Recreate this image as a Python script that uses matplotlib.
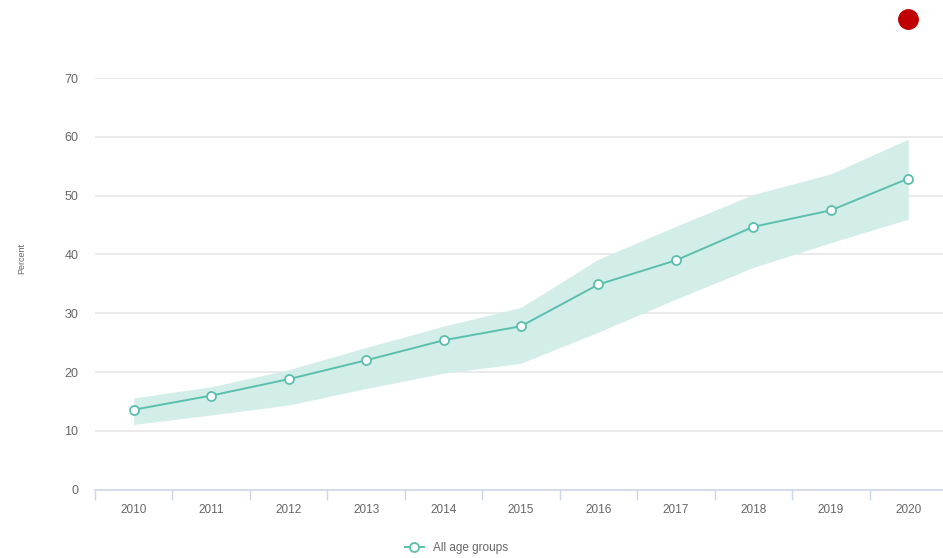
import matplotlib
matplotlib.use("Agg")
import matplotlib.pyplot as plt
import numpy as np

years = ["2010", "2011", "2012", "2013", "2014", "2015", "2016", "2017", "2018", "2019", "2020"]
values = [13.6, 16.0, 18.8, 22.0, 25.4, 27.8, 34.9, 39.0, 44.7, 47.5, 52.9]
upper = [15.6, 17.5, 20.4, 24.2, 27.8, 31.0, 39.2, 44.8, 50.2, 53.7, 59.6]
lower = [11.1, 12.7, 14.4, 17.2, 19.8, 21.5, 26.8, 32.4, 37.8, 42.0, 46.0]
target_year = "2020"
target_value = 80
yticks = [0, 10, 20, 30, 40, 50, 60, 70]
series_name = "All age groups"
ylabel = "Percent"

line_color = "#5bbfae"
band_color = "#d3eee9"
grid_color = "#e6e6e6"
axis_color = "#ccd6eb"
text_color = "#666666"

plt.rcParams['font.family'] = ['Liberation Sans', 'DejaVu Sans']

fig = plt.figure(figsize=(9.43, 5.58), dpi=100)
ax = fig.add_axes([95/943, 1 - 489.7/558, 852/943, (489.7 - 78)/558])

x = np.arange(len(years))
ax.fill_between(x, lower, upper, color=band_color, linewidth=0, zorder=1)
ax.plot(x, values, color=line_color, linewidth=1.4, marker='o', markersize=6.5,
        markerfacecolor='white', markeredgecolor=line_color, markeredgewidth=1.3,
        zorder=3, label=series_name)
ax.plot([years.index(target_year)], [target_value], marker='o', markersize=14,
        color='#c00000', linestyle='none', clip_on=False, zorder=4)

ax.set_xlim(-0.5, len(years) - 0.5)
ax.set_ylim(0, 70)
ax.set_yticks(yticks)
ax.set_xticks(x)
ax.set_xticklabels(years)
ax.set_xticks(np.arange(len(years) + 1) - 0.5, minor=True)

for y in yticks[1:]:
    ax.axhline(y, color=grid_color, linewidth=1.2, zorder=0)

for s in ['top', 'right', 'left']:
    ax.spines[s].set_visible(False)
ax.spines['bottom'].set_color(axis_color)
ax.spines['bottom'].set_linewidth(1.2)

ax.tick_params(axis='y', length=0, pad=12, labelsize=9, labelcolor=text_color)
ax.tick_params(axis='x', which='major', length=0, pad=10, labelsize=8.5, labelcolor=text_color)
ax.tick_params(axis='x', which='minor', length=7, width=1, color=axis_color)

fig.text(22/943, 1 - 258/558, ylabel, rotation=90, ha='center', va='center',
         fontsize=6.5, color=text_color)

fig.legend(loc='lower center', bbox_to_anchor=(0.484, -0.012), frameon=False,
           fontsize=8.5, labelcolor=text_color, handlelength=1.6)

fig.savefig("out.png", dpi=100, facecolor='white')
